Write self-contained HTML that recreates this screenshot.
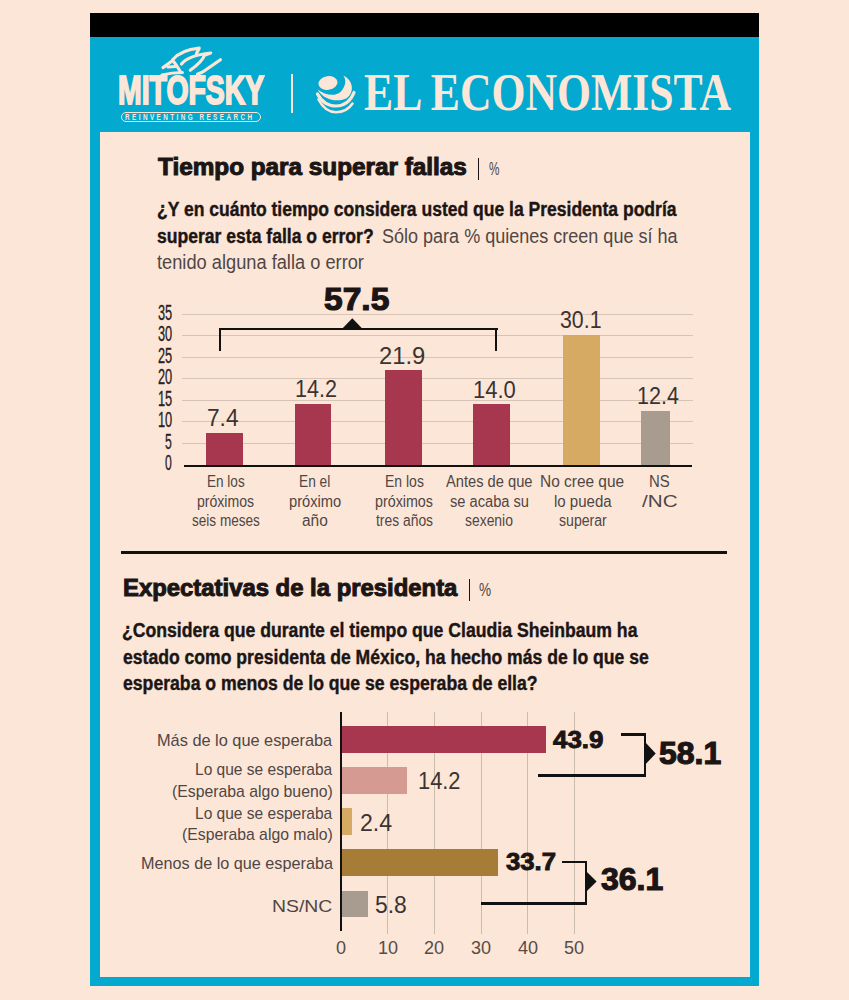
<!DOCTYPE html>
<html><head><meta charset="utf-8"><style>
html,body{margin:0;padding:0;}
body{width:849px;height:1000px;background:#fce6d7;position:relative;overflow:hidden;font-family:"Liberation Sans",sans-serif;}
.t{position:absolute;white-space:nowrap;transform-origin:0 0;}
.r{position:absolute;}
</style></head><body>
<div class="r" style="left:90.00px;top:13.00px;width:669.00px;height:24.00px;background:#000;"></div>
<div class="r" style="left:90.00px;top:37.00px;width:669.00px;height:949.00px;background:#03a9ce;"></div>
<div class="r" style="left:99.50px;top:132.00px;width:650.00px;height:844.50px;background:#fce6d7;"></div>
<div class="r" style="left:291.00px;top:74.00px;width:2.00px;height:39.00px;background:#fce6d7;"></div>
<div class="t" style="left:118.20px;top:69.89px;font-size:41px;line-height:41px;font-weight:700;color:#fce6d7;font-family:'Liberation Sans', sans-serif;transform:scaleX(0.6930);-webkit-text-stroke:1.9px #fce6d7;">MITOFSKY</div>
<div class="r" style="left:121px;top:112px;width:137.5px;height:7.5px;border:1px solid #fce6d7;border-radius:5px;"></div>
<div class="t" style="left:124.5px;top:113px;font-size:8.8px;line-height:8.5px;font-weight:700;color:#fce6d7;letter-spacing:3.4px;transform:scaleX(0.72);">REINVENTING RESEARCH</div>
<svg class="r" style="left:0;top:0" width="849" height="200" viewBox="0 0 849 200">
<g fill="none" stroke="#fce6d7" stroke-width="3.2" stroke-linecap="round" stroke-linejoin="round">
<path d="M172.7 59.7 Q181 50 199.2 48.2 L196.5 53.5"/>
<path d="M181.5 64 Q188 55.5 210.7 53 L204.5 55.3 Q202 62 190.3 70.3"/>
<path d="M163 67.6 L172.7 60.5 L176.2 65 L180.6 72"/>
<path d="M168 67 L176 66.5"/>
<path d="M162 75 Q172 72.5 182.4 72.5"/>
<path d="M197.4 74.2 L202.7 72 L220.4 59.7"/>
</g>
</svg>
<svg class="r" style="left:0;top:0" width="849" height="200" viewBox="0 0 849 200">
<ellipse cx="328" cy="83" rx="9.6" ry="6.8" transform="rotate(-8 328 83)" fill="#fce6d7"/>
<path d="M343.3 75.6 C353 80 355 92 347 98 C340 102 325 102 317.5 89.6 C326 96 336 96.5 341 91.5 C346 86 346.5 80 343.3 75.6 Z" fill="#fce6d7"/>
<g fill="none" stroke="#fce6d7" stroke-linecap="round">
<path d="M317.5 94 Q324 106 336 106 Q349 105.5 354 92.5" stroke-width="3.2"/>
<path d="M318.5 99.5 Q325 112 336 112.3 Q347 112 352.5 103.5" stroke-width="2.6"/>
</g>
</svg>
<div class="t" style="left:364.40px;top:66.24px;font-size:52.5px;line-height:52.5px;font-weight:700;color:#fce6d7;font-family:'Liberation Serif', serif;transform:scaleX(0.8322);">EL ECONOMISTA</div>
<div class="t" style="left:157.50px;top:155.93px;font-size:23px;line-height:23px;font-weight:700;color:#1b1515;font-family:'Liberation Sans', sans-serif;transform:scaleX(1.0566);-webkit-text-stroke:1.0px #1b1515;">Tiempo para superar fallas</div>
<div class="r" style="left:477.60px;top:157.80px;width:1.60px;height:21.90px;background:#1b1515;"></div>
<div class="t" style="left:489.00px;top:159.01px;font-size:19px;line-height:19px;font-weight:400;color:#4f4645;font-family:'Liberation Sans', sans-serif;transform:scaleX(0.6163);">%</div>
<div class="t" style="left:157.20px;top:199.07px;font-size:20px;line-height:20px;font-weight:700;color:#1b1515;font-family:'Liberation Sans', sans-serif;transform:scaleX(0.8759);-webkit-text-stroke:0.4px #1b1515;">¿Y en cuánto tiempo considera usted que la Presidenta podría</div>
<div class="t" style="left:157.20px;top:225.77px;font-size:20px;line-height:20px;font-weight:700;color:#1b1515;font-family:'Liberation Sans', sans-serif;transform:scaleX(0.8778);-webkit-text-stroke:0.4px #1b1515;">superar esta falla o error?</div>
<div class="t" style="left:381.50px;top:225.77px;font-size:20px;line-height:20px;font-weight:400;color:#4f4645;font-family:'Liberation Sans', sans-serif;transform:scaleX(0.9009);">Sólo para % quienes creen que sí ha</div>
<div class="t" style="left:157.00px;top:252.27px;font-size:20px;line-height:20px;font-weight:400;color:#4f4645;font-family:'Liberation Sans', sans-serif;transform:scaleX(0.9124);">tenido alguna falla o error</div>
<div class="r" style="left:182.40px;top:442.50px;width:510.60px;height:1.20px;background:#d6c5b7;"></div>
<div class="r" style="left:182.40px;top:421.00px;width:510.60px;height:1.20px;background:#d6c5b7;"></div>
<div class="r" style="left:182.40px;top:399.50px;width:510.60px;height:1.20px;background:#d6c5b7;"></div>
<div class="r" style="left:182.40px;top:378.00px;width:510.60px;height:1.20px;background:#d6c5b7;"></div>
<div class="r" style="left:182.40px;top:356.50px;width:510.60px;height:1.20px;background:#d6c5b7;"></div>
<div class="r" style="left:182.40px;top:335.00px;width:510.60px;height:1.20px;background:#d6c5b7;"></div>
<div class="r" style="left:182.40px;top:313.50px;width:510.60px;height:1.20px;background:#d6c5b7;"></div>
<div class="r" style="left:183.60px;top:464.60px;width:508.40px;height:2.60px;background:#111;"></div>
<div class="t" style="left:165.25px;top:453.40px;font-size:21.5px;line-height:21.5px;font-weight:400;color:#2a2222;font-family:'Liberation Sans', sans-serif;transform:scaleX(0.5667);-webkit-text-stroke:0.3px #2a2222;">0</div>
<div class="t" style="left:165.25px;top:431.90px;font-size:21.5px;line-height:21.5px;font-weight:400;color:#2a2222;font-family:'Liberation Sans', sans-serif;transform:scaleX(0.5667);-webkit-text-stroke:0.3px #2a2222;">5</div>
<div class="t" style="left:157.85px;top:410.40px;font-size:21.5px;line-height:21.5px;font-weight:400;color:#2a2222;font-family:'Liberation Sans', sans-serif;transform:scaleX(0.5948);-webkit-text-stroke:0.3px #2a2222;">10</div>
<div class="t" style="left:157.85px;top:388.90px;font-size:21.5px;line-height:21.5px;font-weight:400;color:#2a2222;font-family:'Liberation Sans', sans-serif;transform:scaleX(0.5948);-webkit-text-stroke:0.3px #2a2222;">15</div>
<div class="t" style="left:157.85px;top:367.40px;font-size:21.5px;line-height:21.5px;font-weight:400;color:#2a2222;font-family:'Liberation Sans', sans-serif;transform:scaleX(0.5948);-webkit-text-stroke:0.3px #2a2222;">20</div>
<div class="t" style="left:157.85px;top:345.90px;font-size:21.5px;line-height:21.5px;font-weight:400;color:#2a2222;font-family:'Liberation Sans', sans-serif;transform:scaleX(0.5948);-webkit-text-stroke:0.3px #2a2222;">25</div>
<div class="t" style="left:157.85px;top:324.40px;font-size:21.5px;line-height:21.5px;font-weight:400;color:#2a2222;font-family:'Liberation Sans', sans-serif;transform:scaleX(0.5948);-webkit-text-stroke:0.3px #2a2222;">30</div>
<div class="t" style="left:157.85px;top:302.90px;font-size:21.5px;line-height:21.5px;font-weight:400;color:#2a2222;font-family:'Liberation Sans', sans-serif;transform:scaleX(0.5948);-webkit-text-stroke:0.3px #2a2222;">35</div>
<div class="r" style="left:206.20px;top:432.78px;width:36.40px;height:32.22px;background:#a6374f;"></div>
<div class="t" style="left:207.00px;top:406.98px;font-size:23.5px;line-height:23.5px;font-weight:400;color:#3a3333;font-family:'Liberation Sans', sans-serif;transform:scaleX(0.9655);">7.4</div>
<div class="r" style="left:294.50px;top:403.54px;width:36.30px;height:61.46px;background:#a6374f;"></div>
<div class="t" style="left:294.70px;top:377.74px;font-size:23.5px;line-height:23.5px;font-weight:400;color:#3a3333;font-family:'Liberation Sans', sans-serif;transform:scaleX(0.9158);">14.2</div>
<div class="r" style="left:385.20px;top:370.43px;width:36.80px;height:94.57px;background:#a6374f;"></div>
<div class="t" style="left:379.40px;top:344.63px;font-size:23.5px;line-height:23.5px;font-weight:400;color:#3a3333;font-family:'Liberation Sans', sans-serif;transform:scaleX(1.0120);">21.9</div>
<div class="r" style="left:472.90px;top:404.40px;width:36.70px;height:60.60px;background:#a6374f;"></div>
<div class="t" style="left:473.40px;top:378.60px;font-size:23.5px;line-height:23.5px;font-weight:400;color:#3a3333;font-family:'Liberation Sans', sans-serif;transform:scaleX(0.9355);">14.0</div>
<div class="r" style="left:563.30px;top:335.17px;width:36.70px;height:129.83px;background:#d6aa62;"></div>
<div class="t" style="left:559.70px;top:309.37px;font-size:23.5px;line-height:23.5px;font-weight:400;color:#3a3333;font-family:'Liberation Sans', sans-serif;transform:scaleX(0.9071);">30.1</div>
<div class="r" style="left:640.70px;top:411.28px;width:29.00px;height:53.72px;background:#a89c90;"></div>
<div class="t" style="left:637.00px;top:385.48px;font-size:23.5px;line-height:23.5px;font-weight:400;color:#3a3333;font-family:'Liberation Sans', sans-serif;transform:scaleX(0.9180);">12.4</div>
<div class="t" style="left:206.75px;top:473.85px;font-size:16px;line-height:16px;font-weight:400;color:#4f4645;font-family:'Liberation Sans', sans-serif;transform:scaleX(0.8472);">En los</div>
<div class="t" style="left:197.10px;top:493.95px;font-size:16px;line-height:16px;font-weight:400;color:#4f4645;font-family:'Liberation Sans', sans-serif;transform:scaleX(0.8786);">próximos</div>
<div class="t" style="left:191.70px;top:512.75px;font-size:16px;line-height:16px;font-weight:400;color:#4f4645;font-family:'Liberation Sans', sans-serif;transform:scaleX(0.8475);">seis meses</div>
<div class="t" style="left:299.35px;top:473.85px;font-size:16px;line-height:16px;font-weight:400;color:#4f4645;font-family:'Liberation Sans', sans-serif;transform:scaleX(0.8575);">En el</div>
<div class="t" style="left:288.90px;top:493.95px;font-size:16px;line-height:16px;font-weight:400;color:#4f4645;font-family:'Liberation Sans', sans-serif;transform:scaleX(0.9178);">próximo</div>
<div class="t" style="left:302.10px;top:512.75px;font-size:16px;line-height:16px;font-weight:400;color:#4f4645;font-family:'Liberation Sans', sans-serif;transform:scaleX(0.9645);">año</div>
<div class="t" style="left:384.85px;top:473.85px;font-size:16px;line-height:16px;font-weight:400;color:#4f4645;font-family:'Liberation Sans', sans-serif;transform:scaleX(0.8742);">En los</div>
<div class="t" style="left:375.35px;top:493.95px;font-size:16px;line-height:16px;font-weight:400;color:#4f4645;font-family:'Liberation Sans', sans-serif;transform:scaleX(0.8925);">próximos</div>
<div class="t" style="left:375.75px;top:512.75px;font-size:16px;line-height:16px;font-weight:400;color:#4f4645;font-family:'Liberation Sans', sans-serif;transform:scaleX(0.8668);">tres años</div>
<div class="t" style="left:445.80px;top:473.85px;font-size:16px;line-height:16px;font-weight:400;color:#4f4645;font-family:'Liberation Sans', sans-serif;transform:scaleX(0.9167);">Antes de que</div>
<div class="t" style="left:449.50px;top:493.95px;font-size:16px;line-height:16px;font-weight:400;color:#4f4645;font-family:'Liberation Sans', sans-serif;transform:scaleX(0.9159);">se acaba su</div>
<div class="t" style="left:465.05px;top:512.75px;font-size:16px;line-height:16px;font-weight:400;color:#4f4645;font-family:'Liberation Sans', sans-serif;transform:scaleX(0.8689);">sexenio</div>
<div class="t" style="left:540.45px;top:473.85px;font-size:16px;line-height:16px;font-weight:400;color:#4f4645;font-family:'Liberation Sans', sans-serif;transform:scaleX(0.9653);">No cree que</div>
<div class="t" style="left:553.65px;top:493.95px;font-size:16px;line-height:16px;font-weight:400;color:#4f4645;font-family:'Liberation Sans', sans-serif;transform:scaleX(0.9382);">lo pueda</div>
<div class="t" style="left:558.60px;top:512.75px;font-size:16px;line-height:16px;font-weight:400;color:#4f4645;font-family:'Liberation Sans', sans-serif;transform:scaleX(0.8811);">superar</div>
<div class="t" style="left:649.35px;top:473.85px;font-size:16px;line-height:16px;font-weight:400;color:#4f4645;font-family:'Liberation Sans', sans-serif;transform:scaleX(0.9303);">NS</div>
<div class="t" style="left:641.95px;top:493.95px;font-size:16px;line-height:16px;font-weight:400;color:#4f4645;font-family:'Liberation Sans', sans-serif;transform:scaleX(1.2909);">/NC</div>
<div class="r" style="left:218.50px;top:327.50px;width:279.00px;height:2.20px;background:#111;"></div>
<div class="r" style="left:218.50px;top:327.50px;width:2.20px;height:23.70px;background:#111;"></div>
<div class="r" style="left:495.30px;top:327.50px;width:2.20px;height:23.70px;background:#111;"></div>
<svg class="r" style="left:0;top:0" width="849" height="400"><path d="M342.4 328.5 L352.3 318.2 L362.2 328.5 Z" fill="#111"/></svg>
<div class="t" style="left:323.90px;top:283.31px;font-size:32px;line-height:32px;font-weight:700;color:#1b1515;font-family:'Liberation Sans', sans-serif;transform:scaleX(1.0490);-webkit-text-stroke:1.2px #1b1515;">57.5</div>
<div class="r" style="left:121.20px;top:551.30px;width:605.80px;height:3.00px;background:#111;"></div>
<div class="t" style="left:123.20px;top:576.60px;font-size:23.5px;line-height:23.5px;font-weight:700;color:#1b1515;font-family:'Liberation Sans', sans-serif;transform:scaleX(1.0159);-webkit-text-stroke:1.0px #1b1515;">Expectativas de la presidenta</div>
<div class="r" style="left:468.70px;top:578.80px;width:1.60px;height:22.00px;background:#1b1515;"></div>
<div class="t" style="left:479.40px;top:579.91px;font-size:19px;line-height:19px;font-weight:400;color:#4f4645;font-family:'Liberation Sans', sans-serif;transform:scaleX(0.7170);">%</div>
<div class="t" style="left:122.20px;top:620.47px;font-size:20px;line-height:20px;font-weight:700;color:#1b1515;font-family:'Liberation Sans', sans-serif;transform:scaleX(0.8818);-webkit-text-stroke:0.4px #1b1515;">¿Considera que durante el tiempo que Claudia Sheinbaum ha</div>
<div class="t" style="left:123.20px;top:646.97px;font-size:20px;line-height:20px;font-weight:700;color:#1b1515;font-family:'Liberation Sans', sans-serif;transform:scaleX(0.8793);-webkit-text-stroke:0.4px #1b1515;">estado como presidenta de México, ha hecho más de lo que se</div>
<div class="t" style="left:123.20px;top:673.47px;font-size:20px;line-height:20px;font-weight:700;color:#1b1515;font-family:'Liberation Sans', sans-serif;transform:scaleX(0.8817);-webkit-text-stroke:0.4px #1b1515;">esperaba o menos de lo que se esperaba de ella?</div>
<div class="r" style="left:387.35px;top:712.00px;width:1.00px;height:221.50px;background:#cbbcb0;"></div>
<div class="r" style="left:434.00px;top:712.00px;width:1.00px;height:221.50px;background:#cbbcb0;"></div>
<div class="r" style="left:480.65px;top:712.00px;width:1.00px;height:221.50px;background:#cbbcb0;"></div>
<div class="r" style="left:527.30px;top:712.00px;width:1.00px;height:221.50px;background:#cbbcb0;"></div>
<div class="r" style="left:573.95px;top:712.00px;width:1.00px;height:221.50px;background:#cbbcb0;"></div>
<div class="t" style="left:336.15px;top:938.11px;font-size:19px;line-height:19px;font-weight:400;color:#574c48;font-family:'Liberation Sans', sans-serif;transform:scaleX(0.9500);">0</div>
<div class="t" style="left:377.82px;top:938.11px;font-size:19px;line-height:19px;font-weight:400;color:#574c48;font-family:'Liberation Sans', sans-serif;transform:scaleX(0.9500);">10</div>
<div class="t" style="left:424.47px;top:938.11px;font-size:19px;line-height:19px;font-weight:400;color:#574c48;font-family:'Liberation Sans', sans-serif;transform:scaleX(0.9500);">20</div>
<div class="t" style="left:471.12px;top:938.11px;font-size:19px;line-height:19px;font-weight:400;color:#574c48;font-family:'Liberation Sans', sans-serif;transform:scaleX(0.9500);">30</div>
<div class="t" style="left:517.77px;top:938.11px;font-size:19px;line-height:19px;font-weight:400;color:#574c48;font-family:'Liberation Sans', sans-serif;transform:scaleX(0.9500);">40</div>
<div class="t" style="left:564.42px;top:938.11px;font-size:19px;line-height:19px;font-weight:400;color:#574c48;font-family:'Liberation Sans', sans-serif;transform:scaleX(0.9500);">50</div>
<div class="r" style="left:342.00px;top:726.20px;width:203.99px;height:26.60px;background:#a6374f;"></div>
<div class="r" style="left:342.00px;top:767.00px;width:65.44px;height:26.60px;background:#d59a91;"></div>
<div class="r" style="left:342.00px;top:808.20px;width:10.40px;height:26.60px;background:#d6aa62;"></div>
<div class="r" style="left:342.00px;top:849.20px;width:156.41px;height:26.60px;background:#a57d37;"></div>
<div class="r" style="left:342.00px;top:890.60px;width:26.26px;height:26.60px;background:#a89c90;"></div>
<div class="r" style="left:339.50px;top:712.00px;width:2.50px;height:219.00px;background:#111;"></div>
<div class="t" style="left:157.30px;top:732.21px;font-size:17px;line-height:17px;font-weight:400;color:#4f4645;font-family:'Liberation Sans', sans-serif;transform:scaleX(0.9605);">Más de lo que esperaba</div>
<div class="t" style="left:195.30px;top:760.81px;font-size:17px;line-height:17px;font-weight:400;color:#4f4645;font-family:'Liberation Sans', sans-serif;transform:scaleX(0.9131);">Lo que se esperaba</div>
<div class="t" style="left:171.80px;top:782.81px;font-size:17px;line-height:17px;font-weight:400;color:#4f4645;font-family:'Liberation Sans', sans-serif;transform:scaleX(0.9295);">(Esperaba algo bueno)</div>
<div class="t" style="left:195.30px;top:804.61px;font-size:17px;line-height:17px;font-weight:400;color:#4f4645;font-family:'Liberation Sans', sans-serif;transform:scaleX(0.9131);">Lo que se esperaba</div>
<div class="t" style="left:181.90px;top:826.11px;font-size:17px;line-height:17px;font-weight:400;color:#4f4645;font-family:'Liberation Sans', sans-serif;transform:scaleX(0.9274);">(Esperaba algo malo)</div>
<div class="t" style="left:140.60px;top:855.21px;font-size:17px;line-height:17px;font-weight:400;color:#4f4645;font-family:'Liberation Sans', sans-serif;transform:scaleX(0.9534);">Menos de lo que esperaba</div>
<div class="t" style="left:272.30px;top:898.31px;font-size:17px;line-height:17px;font-weight:400;color:#4f4645;font-family:'Liberation Sans', sans-serif;transform:scaleX(1.1404);">NS/NC</div>
<div class="t" style="left:417.50px;top:769.93px;font-size:23px;line-height:23px;font-weight:400;color:#3a3333;font-family:'Liberation Sans', sans-serif;transform:scaleX(0.9497);">14.2</div>
<div class="t" style="left:359.80px;top:811.73px;font-size:23px;line-height:23px;font-weight:400;color:#3a3333;font-family:'Liberation Sans', sans-serif;transform:scaleX(1.0062);">2.4</div>
<div class="t" style="left:374.80px;top:894.13px;font-size:23px;line-height:23px;font-weight:400;color:#3a3333;font-family:'Liberation Sans', sans-serif;transform:scaleX(0.9938);">5.8</div>
<div class="t" style="left:553.05px;top:729.30px;font-size:23.5px;line-height:23.5px;font-weight:700;color:#1b1515;font-family:'Liberation Sans', sans-serif;transform:scaleX(1.1038);-webkit-text-stroke:0.9px #1b1515;">43.9</div>
<div class="t" style="left:506.25px;top:850.70px;font-size:23.5px;line-height:23.5px;font-weight:700;color:#1b1515;font-family:'Liberation Sans', sans-serif;transform:scaleX(1.0929);-webkit-text-stroke:0.9px #1b1515;">33.7</div>
<div class="r" style="left:620.90px;top:733.20px;width:25.30px;height:2.70px;background:#111;"></div>
<div class="r" style="left:643.60px;top:733.20px;width:2.60px;height:43.80px;background:#111;"></div>
<div class="r" style="left:538.20px;top:774.20px;width:108.00px;height:2.80px;background:#111;"></div>
<div class="r" style="left:562.00px;top:860.60px;width:24.90px;height:2.50px;background:#111;"></div>
<div class="r" style="left:584.90px;top:860.60px;width:2.00px;height:44.20px;background:#111;"></div>
<div class="r" style="left:480.70px;top:902.30px;width:106.20px;height:2.50px;background:#111;"></div>
<svg class="r" style="left:0;top:0" width="849" height="1000"><path d="M645.5 742.6 L655.7 753.5 L645.5 764.3 Z M586.2 871.2 L596.6 881.4 L586.2 891.7 Z" fill="#111"/></svg>
<div class="t" style="left:659.20px;top:736.51px;font-size:32px;line-height:32px;font-weight:700;color:#1b1515;font-family:'Liberation Sans', sans-serif;transform:scaleX(0.9992);-webkit-text-stroke:1.2px #1b1515;">58.1</div>
<div class="t" style="left:600.80px;top:863.66px;font-size:31px;line-height:31px;font-weight:700;color:#1b1515;font-family:'Liberation Sans', sans-serif;transform:scaleX(1.0302);-webkit-text-stroke:1.2px #1b1515;">36.1</div>
</body></html>
